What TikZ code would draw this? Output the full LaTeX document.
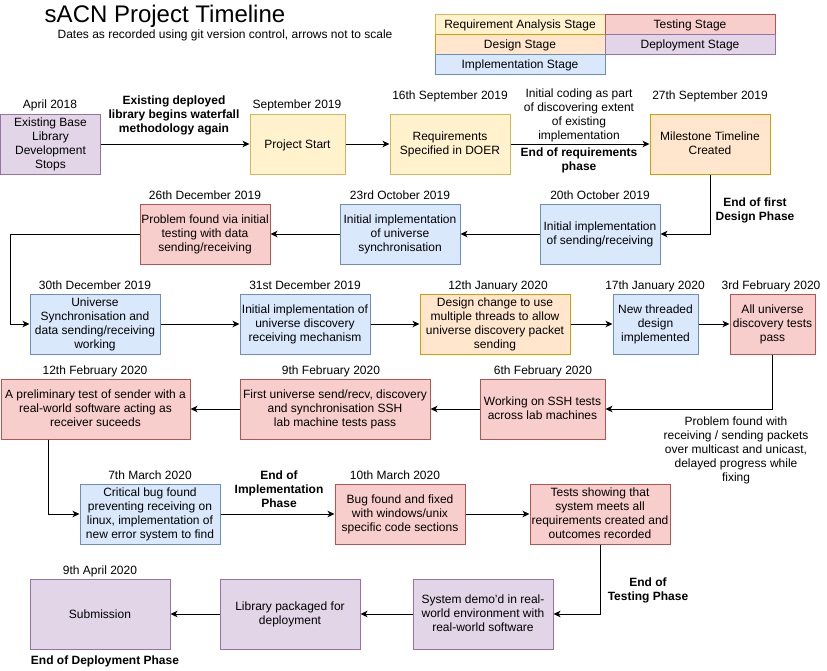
\documentclass[tikz,border=0pt]{standalone}
\usepackage{fontspec}
\setmainfont{Liberation Sans}
\usetikzlibrary{arrows.meta}
\definecolor{yfill}{HTML}{FFF2CC}\definecolor{ydraw}{HTML}{D6B656}
\definecolor{ofill}{HTML}{FFE6CC}\definecolor{odraw}{HTML}{D79B00}
\definecolor{bfill}{HTML}{DAE8FC}\definecolor{bdraw}{HTML}{6C8EBF}
\definecolor{rfill}{HTML}{F8CECC}\definecolor{rdraw}{HTML}{B85450}
\definecolor{pfill}{HTML}{E1D5E7}\definecolor{pdraw}{HTML}{9673A6}
\newcommand{\topstrut}{\rule{0pt}{11pt}}
\newcommand{\botstrut}{\rule[-2.5pt]{0pt}{2.5pt}}
\begin{document}
\begin{tikzpicture}[x=1pt,y=1pt,
  every node/.style={font=\fontsize{12}{14}\selectfont, inner sep=0pt, align=center,
    execute at begin node=\topstrut, execute at end node=\botstrut},
  box/.style={draw, line width=1pt, minimum height=60pt, inner sep=1pt},
  ybox/.style={box, fill=yfill, draw=ydraw},
  obox/.style={box, fill=ofill, draw=odraw},
  bbox/.style={box, fill=bfill, draw=bdraw},
  rbox/.style={box, fill=rfill, draw=rdraw},
  pbox/.style={box, fill=pfill, draw=pdraw},
  leg/.style={draw, line width=1pt, minimum width=170pt, minimum height=20pt},
  arr/.style={draw, line width=1pt, -{Stealth[length=7pt,width=6.5pt,inset=2pt]}},
  bl/.style={font=\fontsize{12}{14}\selectfont\bfseries}
]
\useasboundingbox (0,0) rectangle (827,-670);
\fill[white] (0,0) rectangle (827,-670);

% title
\node (title) at (165,-16.5) {\fontsize{24}{28}\selectfont sACN Project Timeline};
\node (subtitle) at (225,-34) {Dates as recorded using git version control, arrows not to scale};

% legend
\node[leg, fill=yfill, draw=ydraw] (legR) at (520,-24) {Requirement Analysis Stage};
\node[leg, fill=rfill, draw=rdraw] (legT) at (690,-24) {Testing Stage};
\node[leg, fill=ofill, draw=odraw] (legD) at (520,-44) {Design Stage};
\node[leg, fill=pfill, draw=pdraw] (legP) at (690,-44) {Deployment Stage};
\node[leg, fill=bfill, draw=bdraw] (legI) at (520,-64) {Implementation Stage};

% row 1
\node[pbox, minimum width=100pt] (A) at (50.5,-144) {Existing Base\\Library\\Development\\Stops};
\node[ybox, minimum width=95pt] (B) at (297.5,-144) {Project Start};
\node[ybox, minimum width=120pt] (C) at (450,-144) {Requirements\\Specified in DOER};
\node[obox, minimum width=120pt] (D) at (710,-144) {Milestone Timeline\\Created};

% row 2
\node[bbox, minimum width=120pt] (E) at (600,-234) {Initial implementation\\of sending/receiving};
\node[bbox, minimum width=120pt] (G) at (400,-234) {Initial implementation\\of universe\\synchronisation};
\node[rbox, minimum width=130pt] (F) at (205,-234) {Problem found via initial\\testing with data\\sending/receiving};

% row 3
\node[bbox, minimum width=130pt] (H) at (95,-324) {Universe\\Synchronisation and\\data sending/receiving\\working};
\node[bbox, minimum width=130pt] (I) at (305,-324) {Initial implementation of\\universe discovery\\receiving mechanism};
\node[obox, minimum width=150pt] (J) at (495,-324) {Design change to use\\multiple threads to allow\\universe discovery packet\\sending};
\node[bbox, minimum width=85pt] (K) at (655.5,-324) {New threaded\\design\\implemented};
\node[rbox, minimum width=85pt] (L) at (772.5,-324) {All universe\\discovery tests\\pass};

% row 4
\node[rbox, minimum width=125pt] (M) at (542.5,-409) {Working on SSH tests\\across lab machines};
\node[rbox, minimum width=190pt] (O) at (335,-409) {First universe send/recv, discovery\\and synchronisation SSH\\lab machine tests pass};
\node[rbox, minimum width=189pt] (N) at (95.5,-409) {A preliminary test of sender with a\\real-world software acting as\\receiver suceeds};

% row 5
\node[bbox, minimum width=140pt] (P) at (150,-514) {Critical bug found\\preventing receiving on\\linux, implementation of\\new error system to find};
\node[rbox, minimum width=130pt] (Q) at (400,-514) {Bug found and fixed\\with windows/unix\\specific code sections};
\node[rbox, minimum width=140pt] (R) at (600,-514) {Tests showing that\\system meets all\\requirements created and\\outcomes recorded};

% row 6
\node[pbox, minimum width=140pt, minimum height=70pt] (T) at (100,-614) {Submission};
\node[pbox, minimum width=140pt, minimum height=70pt] (U) at (290,-614) {Library packaged for\\deployment};
\node[pbox, minimum width=140pt, minimum height=70pt] (S) at (483,-614) {System demo'd in real-\\world environment with\\real-world software};

% dates
\node (dA) at (50,-104) {April 2018};
\node (dB) at (297,-104) {September 2019};
\node (dC) at (450,-95) {16th September 2019};
\node (dD) at (710,-95) {27th September 2019};
\node (dF) at (205,-195) {26th December 2019};
\node (dG) at (400,-195) {23rd October 2019};
\node (dE) at (600,-195) {20th October 2019};
\node (dH) at (95,-285) {30th December 2019};
\node (dI) at (305,-285) {31st December 2019};
\node (dJ) at (498,-285) {12th January 2020};
\node (dK) at (655,-285) {17th January 2020};
\node (dL) at (771,-285) {3rd February 2020};
\node (dN) at (95,-370) {12th February 2020};
\node (dO) at (331,-370) {9th February 2020};
\node (dM) at (543,-370) {6th February 2020};
\node (dP) at (150,-475) {7th March 2020};
\node (dQ) at (395,-475) {10th March 2020};
\node (dT) at (100,-570) {9th April 2020};

% edge labels
\node[bl] (l1) at (174,-115) {Existing deployed\\library begins waterfall\\methodology again};
\node (l2) at (579,-115) {Initial coding as part\\of discovering extent\\of existing\\implementation};
\node[bl] (l3) at (579,-160) {End of requirements\\phase};
\node[bl] (l4) at (755,-210) {End of first\\Design Phase};
\node (l5) at (736,-450) {Problem found with\\receiving / sending packets\\over multicast and unicast,\\delayed progress while\\fixing};
\node[bl] (l6) at (279,-490) {End of\\Implementation\\Phase};
\node[bl] (l7) at (648,-590) {End of\\Testing Phase};
\node[bl] (l8) at (105,-660) {End of Deployment Phase};

% connectors
\coordinate (fh) at (10,-234);
\coordinate (np) at (48,0);
\draw[arr] (A) -- (B);
\draw[arr] (B) -- (C);
\draw[arr] (C) -- (D);
\draw[arr] (D.south) |- (E.east);
\draw[arr] (E) -- (G);
\draw[arr] (G) -- (F);
\draw[arr] (F.west) -- (fh) |- (H.west);
\draw[arr] (H) -- (I);
\draw[arr] (I) -- (J);
\draw[arr] (J) -- (K);
\draw[arr] (K) -- (L);
\draw[arr] (L.south) |- (M.east);
\draw[arr] (M) -- (O);
\draw[arr] (O) -- (N);
\draw[arr] (N.south -| np) |- (P.west);
\draw[arr] (P) -- (Q);
\draw[arr] (Q) -- (R);
\draw[arr] (R.south) |- (S.east);
\draw[arr] (S) -- (U);
\draw[arr] (U) -- (T);
\end{tikzpicture}
\end{document}
